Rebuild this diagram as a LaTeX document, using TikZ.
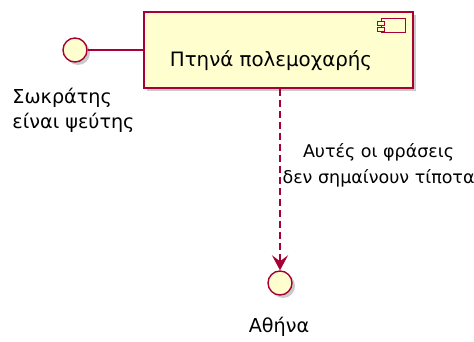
\documentclass[tikz,border=0pt]{standalone}
\usepackage{fontspec}
\setmainfont{DejaVu Sans}
\usetikzlibrary{arrows.meta,positioning,shadows}
\definecolor{umlred}{HTML}{A80036}
\definecolor{umlfill}{HTML}{FEFECE}

\begin{document}
\begin{tikzpicture}[x=1pt, y=-1pt,
	every node/.style={font=\fontsize{19.2}{25}\selectfont},
	umlshadow/.style={drop shadow={shadow xshift=3pt, shadow yshift=-3pt, opacity=0.35, fill=black!60}},
	compbox/.style={draw=umlred, fill=umlfill, line width=1.4pt, rectangle, minimum width=269pt, minimum height=76pt, umlshadow},
	iface/.style={draw=umlred, fill=umlfill, line width=1.4pt, circle, inner sep=0pt, minimum size=24pt, umlshadow},
	link/.style={draw=umlred, line width=1.1pt}]
				\useasboundingbox (0,0) rectangle (474,342);
				\node[compbox] (comp) at (278.5,50) {};
				\node[font=\fontsize{19.8}{25}\selectfont] (compname) at (271,61) {Πτηνά πολεμοχαρής};
				\node[iface] (socrates) at (75,50) {};
				\node[align=left, inner sep=0pt] (socrateslabel) at (73.5,110) {Σωκράτης\\είναι ψεύτης};
				\node[iface] (athens) at (280,283) {};
				\node[inner sep=0pt] (athenslabel) at (279,327) {Αθήνα};
				% component icon
				\draw[umlred, fill=umlfill, line width=1.1pt] ([shift={(-32,7)}]comp.north east) rectangle ([shift={(-8,21)}]comp.north east);
				\draw[umlred, fill=umlfill, line width=1.1pt] ([shift={(-36,10)}]comp.north east) rectangle ([shift={(-29,14.5)}]comp.north east);
				\draw[umlred, fill=umlfill, line width=1.1pt] ([shift={(-36,16)}]comp.north east) rectangle ([shift={(-29,20.5)}]comp.north east);
				\draw[link] (socrates) -- (comp);
				\draw[link, dash pattern=on 7pt off 4pt, -{Stealth[length=15pt, width=16pt, inset=6pt]}] (comp.south -| athens.north) -- (athens.north)
					node[pos=0.42, right=2pt, align=center, inner sep=0pt, font=\fontsize{17.5}{26}\selectfont] (linklabel) {Αυτές οι φράσεις\\δεν σημαίνουν τίποτα};
			\end{tikzpicture}
\end{document}
